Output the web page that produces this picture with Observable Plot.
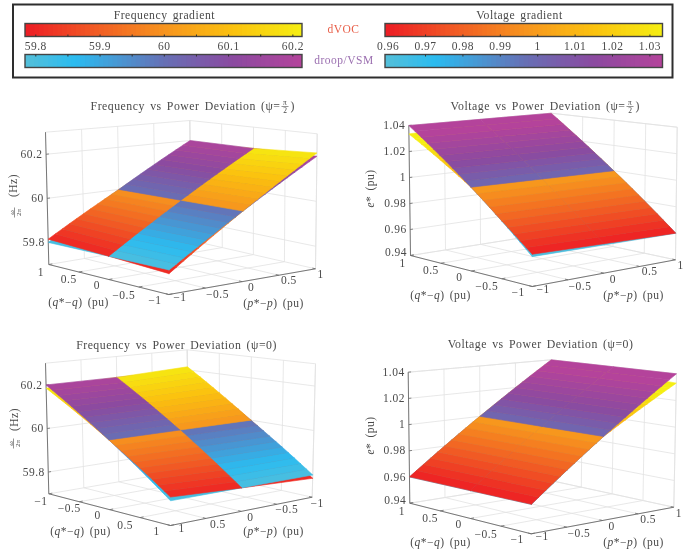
<!DOCTYPE html>
<html>
<head>
<meta charset="utf-8">
<script src="https://cdn.jsdelivr.net/npm/d3@7"></script>
<script src="https://cdn.jsdelivr.net/npm/@observablehq/plot@0.6"></script>
<style>
html,body{margin:0;padding:0;background:#fff}
#page{position:relative;width:683px;height:552px;overflow:hidden;filter:blur(0.45px)}
#page svg{position:absolute;background:transparent}
.wide text{letter-spacing:.5px;word-spacing:1.8px}
</style>
</head>
<body>
<div id="page"></div>
<script>
// ---------- data ----------
const rowSteps = [-1,-0.9,-0.8,-0.7,-0.6,-0.5,-0.4,-0.3,-0.2,-0.1,0,0.1,0.2,0.3,0.4,0.5,0.6,0.7,0.8,0.9,1];
const crossNodes = [-1,0,1];
const freqLevels = [59.8,59.82,59.84,59.86,59.88,59.9,59.92,59.94,59.96,59.98,60,60.02,60.04,60.06,60.08,60.1,60.12,60.14,60.16,60.18,60.2];
const voltLevels = [0.96,0.964,0.968,0.972,0.976,0.98,0.984,0.988,0.992,0.996,1,1.004,1.008,1.012,1.016,1.02,1.024,1.028,1.032,1.036,1.04];
// dVOC minus droop/VSM along the two outer edges of each surface
const freqGapPos = [0.015,0.0135,0.012,0.0105,0.009,0.0075,0.006,0.0045,0.003,0.0015,0,-0.0015,-0.003,-0.0045,-0.006,-0.0075,-0.009,-0.0105,-0.012,-0.0135,-0.015];
const freqGapNeg = [-0.015,-0.0135,-0.012,-0.0105,-0.009,-0.0075,-0.006,-0.0045,-0.003,-0.0015,0,0.0015,0.003,0.0045,0.006,0.0075,0.009,0.0105,0.012,0.0135,0.015];
const voltGapFront = [0.0016,0.0012,0.0009,0.0006,0.0004,0.0002,0.0001,0.0001,0.0001,0.0001,0,-0.00065,-0.0013,-0.00195,-0.0026,-0.00325,-0.0039,-0.00455,-0.0052,-0.00585,-0.0065];
const voltGapHalf = [0.0001,0.0001,0.0001,0.0001,0.0001,0.0001,0.0001,0.0001,0.0001,0.0001,0,-0.0007,-0.0014,-0.0021,-0.0028,-0.0035,-0.0042,-0.0049,-0.0056,-0.0063,-0.007];
const voltGapThin = [0.0001,0.0001,0.0001,0.0001,0.0001,0.0001,0.0001,0.0001,0.0001,0.0001,0,-0.00005,-0.0001,-0.00015,-0.0002,-0.00025,-0.0003,-0.00035,-0.0004,-0.00045,-0.0005];
const pqTicks = [-1,-0.5,0,0.5,1];
const freqTicks = [59.8,60,60.2];
const freqTickLabels = ["59.8","60","60.2"];
const voltTicks = [0.94,0.96,0.98,1,1.02,1.04];
const voltTickLabels = ["0.94","0.96","0.98","1","1.02","1.04"];
const freqBarTicks = [59.8,59.85,59.9,59.95,60,60.05,60.1,60.15,60.2];
const freqBarLabelValues = [59.8,59.9,60,60.1,60.2];
const freqBarLabels = ["59.8","59.9","60","60.1","60.2"];
const voltBarTicks = [0.97,0.98,0.99,1,1.01,1.02,1.03];
const voltBarLabelValues = [0.96,0.97,0.98,0.99,1,1.01,1.02,1.03];
const voltBarLabels = ["0.96","0.97","0.98","0.99","1","1.01","1.02","1.03"];
const freqBarDomain = [59.784,60.215];
const voltBarDomain = [0.9593,1.0335];
const dvocStops = ["#ed1c24","#f15a24","#f7931e","#fbc20f","#f5ee12"];
const dvocAt = [0,0.25,0.5,0.75,1];
const droopStops = ["#55bfd9","#2bbcf0","#6670b5","#8b4aa0","#b4439b"];
const droopAt = [0,0.18,0.5,0.75,1];
// tick label offsets along the two floor edges
const qLabelDx = [-8,-10,-12,-15,-14], qLabelDy = [8,7,6,8,6];
const pLabelDx = [11,12,9,10,5], pLabelDy = [3,6,6,5,6];

const views = [
 {left:0,top:90,w:340,h:225,title:"Frequency vs Power Deviation (ψ=",titleEnd:280,titleY:16,frac:true,
  levels:freqLevels,gapNeg:freqGapNeg,gapPos:freqGapPos,barDomain:freqBarDomain,zDomain:[59.7,60.3],zTicks:freqTicks,zLabels:freqTickLabels,
  rowAxis:"p",rowSign:1,flip:1,
  floor:{L:[48.3,174],F:[168.3,204],R:[315,178.3],B:[190.7,150]},ceil:{L:[45,41.7],F:[170,56.7],R:[316.7,43.3],B:[189.3,30]},
  qTitle:[78,212],pTitle:[273,213],zTitle:[13,95],fracAt:[14,122]},
 {left:340,top:90,w:343,h:225,title:"Voltage vs Power Deviation (ψ=",titleEnd:285,titleY:16,frac:true,
  levels:voltLevels,gapNeg:voltGapFront,gapPos:voltGapThin,barDomain:voltBarDomain,zDomain:[0.94,1.04],zTicks:voltTicks,zLabels:voltTickLabels,
  rowAxis:"q",rowSign:1,flip:1,
  floor:{L:[70,165],F:[191.7,196],R:[335,169.3],B:[210,142.7]},ceil:{L:[68.3,35],F:[192,46.7],R:[336.7,36.7],B:[210.7,22.7]},
  qTitle:[100,205],pTitle:[293,205],zTitle:[30,98]},
 {left:0,top:330,w:340,h:222,title:"Frequency vs Power Deviation (ψ=0)",titleCenter:176,titleY:15,
  levels:freqLevels,gapNeg:freqGapNeg,gapPos:freqGapPos,barDomain:freqBarDomain,zDomain:[59.7,60.3],zTicks:freqTicks,zLabels:freqTickLabels,
  rowAxis:"q",rowSign:-1,flip:-1,
  floor:{L:[48.3,163.3],F:[170,195],R:[311.7,166.7],B:[188.3,139.3]},ceil:{L:[45,32.7],F:[170,46.7],R:[315,33.3],B:[186.7,19.3]},
  qTitle:[80,201],pTitle:[273,201],zTitle:[14,89],fracAt:[13,113]},
 {left:340,top:330,w:343,h:222,title:"Voltage vs Power Deviation (ψ=0)",titleCenter:200,titleY:14,
  levels:voltLevels,gapNeg:voltGapHalf,gapPos:voltGapThin,barDomain:voltBarDomain,zDomain:[0.94,1.04],zTicks:voltTicks,zLabels:voltTickLabels,
  rowAxis:"p",rowSign:1,flip:1,
  floor:{L:[69.3,172.7],F:[190.7,203.3],R:[333.3,176.7],B:[210,150]},ceil:{L:[67.7,41.7],F:[191.7,56.7],R:[336,43.3],B:[210.7,29.3]},
  qTitle:[100,212],pTitle:[293,212],zTitle:[30,105]}
];

const serif = "'Liberation Serif','DejaVu Serif',serif";
const ink = "#4a4a4a";
const page = document.getElementById("page");
const dvocColor = d3.scaleLinear().domain(dvocAt).range(dvocStops).clamp(true);
const droopColor = d3.scaleLinear().domain(droopAt).range(droopStops).clamp(true);

function place(svg,left,top){svg.style.left=left+"px";svg.style.top=top+"px";page.appendChild(svg);}
function lerp(a,b,t){return a+(b-a)*t;}

// set the algebra of the axis titles in italics
function italicise(svg){
  svg.querySelectorAll("text").forEach(node=>{
    const s=node.textContent;
    const m=s.match(/^\(([qp])\*−([qp])\) \(pu\)$/);
    const parts=m?[["(",0],[m[1],1],["*−",0],[m[2],1],[") (pu)",0]]:s==="e* (pu)"?[["e",1],["* (pu)",0]]:null;
    if(!parts) return;
    while(node.firstChild) node.removeChild(node.firstChild);
    for(const [txt,italic] of parts){
      const t=document.createElementNS("http://www.w3.org/2000/svg","tspan");
      t.textContent=txt; if(italic) t.setAttribute("font-style","italic");
      node.appendChild(t);
    }
  });
}

function panel(v){
  const project=(p,q,z)=>{
    const u=(v.flip*p+1)/2, w=(v.flip*q+1)/2, h=(z-v.zDomain[0])/(v.zDomain[1]-v.zDomain[0]);
    const bil=(c,k)=>lerp(lerp(c.F[k],c.R[k],u),lerp(c.L[k],c.B[k],u),w);
    return [lerp(bil(v.floor,0),bil(v.ceil,0),h),lerp(bil(v.floor,1),bil(v.ceil,1),h)];
  };
  const zMin=v.zDomain[0], zMax=v.zDomain[1];
  const cornerLp=-v.flip, cornerLq=v.flip, cornerRp=v.flip, cornerRq=-v.flip, cornerBp=v.flip, cornerBq=v.flip;
  const seg=(a,b)=>({x1:a[0],y1:a[1],x2:b[0],y2:b[1]});
  const grid=[];
  for(const t of pqTicks){
    grid.push(seg(project(t,-v.flip,zMin),project(t,v.flip,zMin)));
    grid.push(seg(project(-v.flip,t,zMin),project(v.flip,t,zMin)));
    grid.push(seg(project(t,v.flip,zMin),project(t,v.flip,zMax)));
    grid.push(seg(project(v.flip,t,zMin),project(v.flip,t,zMax)));
  }
  for(const z of v.zTicks){
    grid.push(seg(project(cornerLp,cornerLq,z),project(cornerBp,cornerBq,z)));
    grid.push(seg(project(cornerBp,cornerBq,z),project(cornerRp,cornerRq,z)));
  }
  grid.push(seg(project(cornerLp,cornerLq,zMax),project(cornerBp,cornerBq,zMax)));
  grid.push(seg(project(cornerBp,cornerBq,zMax),project(cornerRp,cornerRq,zMax)));
  grid.push(seg(project(cornerBp,cornerBq,zMin),project(cornerBp,cornerBq,zMax)));
  grid.push(seg(project(cornerRp,cornerRq,zMin),project(cornerRp,cornerRq,zMax)));

  const t=z=>(z-v.barDomain[0])/(v.barDomain[1]-v.barDomain[0]);
  const node=(r,c)=>v.rowAxis==="p"?[r,c]:[c,r];
  const gapAt=(i,j)=>crossNodes[j]<0?v.gapNeg[i]:crossNodes[j]>0?v.gapPos[i]:(v.gapNeg[i]+v.gapPos[i])/2;
  const lower=[],upper=[];
  let id=0;
  const addCell=(list,i,j,offset,colorFn)=>{
    const zm=(v.levels[i]+v.levels[i+1])/2;
    const color=colorFn(t(zm));
    const k=id++;
    const corners=[[i,j],[i+1,j],[i+1,j+1],[i,j+1],[i,j]];
    for(const [a,b] of corners){
      const [p,q]=node(v.rowSign*rowSteps[a],crossNodes[b]);
      const [x,y]=project(p,q,v.levels[a]+(offset?gapAt(a,b):0));
      list.push({x,y,id:k,color});
    }
  };
  for(let i=0;i<rowSteps.length-1;i++){
    for(let j=0;j<crossNodes.length-1;j++){
      const d=gapAt(i,j)+gapAt(i+1,j)+gapAt(i,j+1)+gapAt(i+1,j+1);
      const dvocUp=d>=0;
      addCell(dvocUp?upper:lower,i,j,true,dvocColor);
      addCell(dvocUp?lower:upper,i,j,false,droopColor);
    }
  }
  const cellMark=list=>Plot.line(list,{x:"x",y:"y",z:"id",fill:"color",stroke:"color",strokeWidth:0.6,curve:"linear"});

  const edge=[seg(project(cornerLp,cornerLq,zMin),project(cornerLp,cornerLq,zMax)),
              seg(project(cornerLp,cornerLq,zMin),project(-v.flip,-v.flip,zMin)),
              seg(project(-v.flip,-v.flip,zMin),project(cornerRp,cornerRq,zMin))];
  const ticks=[];
  const labels=[];
  const fmt=n=>String(n).replace("-","\u2212");
  pqTicks.forEach((_,i)=>{
    const q=v.flip*pqTicks[4-i];
    const a=project(cornerLp,q,zMin), b=project(cornerLp+v.flip*0.05,q,zMin);
    ticks.push(seg(a,b));
    labels.push({x:a[0]+qLabelDx[i],y:a[1]+qLabelDy[i],text:fmt(q)});
    const p=v.flip*pqTicks[i];
    const c=project(p,-v.flip,zMin), d=project(p,-v.flip+v.flip*0.05,zMin);
    ticks.push(seg(c,d));
    labels.push({x:c[0]+pLabelDx[i],y:c[1]+pLabelDy[i],text:fmt(p)});
  });
  const zLab=[];
  v.zTicks.forEach((z,i)=>{
    const a=project(cornerLp,cornerLq,z);
    const b=project(cornerLp+v.flip*0.04,cornerLq,z);
    ticks.push(seg(a,b));
    zLab.push({x:a[0]-3.5,y:a[1]-(z===zMin?3:0),text:v.zLabels[i]});
  });

  const marks=[
    Plot.link(grid,{x1:"x1",y1:"y1",x2:"x2",y2:"y2",stroke:"#e2e2e2",strokeWidth:0.8}),
    Plot.link(edge,{x1:"x1",y1:"y1",x2:"x2",y2:"y2",stroke:"#6a6a6a",strokeWidth:0.9}),
    Plot.link(ticks,{x1:"x1",y1:"y1",x2:"x2",y2:"y2",stroke:"#6a6a6a",strokeWidth:0.8}),
    cellMark(lower),
    cellMark(upper),
    Plot.text(labels,{x:"x",y:"y",text:"text",fontFamily:serif,fontSize:11.5,fill:ink,className:"wide"}),
    Plot.text(zLab,{x:"x",y:"y",text:"text",textAnchor:"end",fontFamily:serif,fontSize:11.5,fill:ink,className:"wide"}),
    Plot.text([{x:v.qTitle[0],y:v.qTitle[1],text:"(q*−q) (pu)"},{x:v.pTitle[0],y:v.pTitle[1],text:"(p*−p) (pu)"}],
      {x:"x",y:"y",text:"text",fontFamily:serif,fontSize:11.5,fill:ink,className:"wide"}),
    Plot.text([{x:v.zTitle[0],y:v.zTitle[1],text:v.fracAt?"(Hz)":"e* (pu)"}],
      {x:"x",y:"y",text:"text",rotate:-90,fontFamily:serif,fontSize:11.5,fill:ink,className:"wide"})
  ];
  if(v.fracAt){
    const [fx,fy]=v.fracAt;
    marks.push(Plot.text([{x:fx-3,y:fy,text:"ω"},{x:fx+4,y:fy,text:"2π"}],{x:"x",y:"y",text:"text",rotate:-90,fontFamily:serif,fontSize:7,fill:ink}));
    marks.push(Plot.link([{x1:fx,y1:fy-5,x2:fx,y2:fy+5}],{x1:"x1",y1:"y1",x2:"x2",y2:"y2",stroke:ink,strokeWidth:0.6}));
  }
  if(v.frac){
    const e=v.titleEnd;
    marks.push(Plot.text([{x:e,y:v.titleY,text:v.title}],{x:"x",y:"y",text:"text",textAnchor:"end",fontFamily:serif,fontSize:11.8,fill:ink,className:"wide"}));
    marks.push(Plot.text([{x:e+4.5,y:v.titleY-3.5,text:"π"},{x:e+4.5,y:v.titleY+4.5,text:"2"}],{x:"x",y:"y",text:"text",fontFamily:serif,fontSize:7.5,fill:ink}));
    marks.push(Plot.link([{x1:e+1,y1:v.titleY,x2:e+8,y2:v.titleY}],{x1:"x1",y1:"y1",x2:"x2",y2:"y2",stroke:ink,strokeWidth:0.6}));
    marks.push(Plot.text([{x:e+10,y:v.titleY,text:")"}],{x:"x",y:"y",text:"text",textAnchor:"start",fontFamily:serif,fontSize:11.8,fill:ink}));
  } else {
    marks.push(Plot.text([{x:v.titleCenter,y:v.titleY,text:v.title}],{x:"x",y:"y",text:"text",fontFamily:serif,fontSize:11.8,fill:ink,className:"wide"}));
  }
  const svg=Plot.plot({width:v.w,height:v.h,margin:0,
    x:{domain:[0,v.w],range:[0,v.w],axis:null},y:{domain:[0,v.h],range:[0,v.h],axis:null},
    marks});
  italicise(svg);
  place(svg,v.left,v.top);
}

function legendBar(o){
  const domain=o.domain, n=60, span=domain[1]-domain[0];
  const samples=d3.range(n).map(i=>({a:domain[0]+span*i/n,b:domain[0]+span*(i+1.2)/n,t:(i+0.5)/n}));
  const bar=(y1,y2,fn)=>[
    Plot.rect(samples,{x1:d=>Math.min(d.a,domain[1]),x2:d=>Math.min(d.b,domain[1]),y1:()=>y1,y2:()=>y2,fill:d=>fn(d.t)}),
    Plot.rect([0],{x1:()=>domain[0],x2:()=>domain[1],y1:()=>y1,y2:()=>y2,stroke:"#444",strokeWidth:1.4,fill:"none"})
  ];
  const svg=Plot.plot({width:o.w,height:84,margin:0,
    x:{domain,range:o.range,axis:null},y:{domain:[0,84],range:[0,84],axis:null},
    marks:[
      ...bar(23.5,36.5,dvocColor),
      ...bar(54.5,67.5,droopColor),
      Plot.ruleX(o.ticks,{y1:()=>34.5,y2:()=>36.5,stroke:"#333",strokeWidth:1}),
      Plot.ruleX(o.ticks,{y1:()=>54.5,y2:()=>56.5,stroke:"#333",strokeWidth:1}),
      Plot.text(o.labelValues,{x:d=>d,y:()=>45.5,text:(d,i)=>o.labels[i],fontFamily:serif,fontSize:11.5,fill:ink,className:"wide"}),
      Plot.text([o.title],{x:()=>o.titleX,y:()=>15,text:d=>d,fontFamily:serif,fontSize:11.7,fill:ink,className:"wide"})
    ]});
  place(svg,o.left,0);
}

place(Plot.plot({width:683,height:84,margin:0,
  x:{domain:[0,683],range:[0,683],axis:null},y:{domain:[0,84],range:[0,84],axis:null},
  marks:[
    Plot.rect([0],{x1:()=>13,x2:()=>672.5,y1:()=>4.5,y2:()=>77.5,stroke:"#2e2e2e",strokeWidth:2,fill:"none"}),
    Plot.text(["dVOC"],{x:()=>343,y:()=>29,text:d=>d,fontFamily:serif,fontSize:11.5,fill:"#e8604a",className:"wide"}),
    Plot.text(["droop/VSM"],{x:()=>343.5,y:()=>60,text:d=>d,fontFamily:serif,fontSize:11.5,fill:"#9b6fb0",className:"wide"})
  ]}),0,0);

legendBar({left:0,w:341,domain:freqBarDomain,range:[25,302],ticks:freqBarTicks,labelValues:freqBarLabelValues,labels:freqBarLabels,title:"Frequency gradient",titleX:60});
legendBar({left:341,w:342,domain:voltBarDomain,range:[44,321.5],ticks:voltBarTicks,labelValues:voltBarLabelValues,labels:voltBarLabels,title:"Voltage gradient",titleX:0.9951});
views.forEach(panel);
</script>
</body>
</html>
